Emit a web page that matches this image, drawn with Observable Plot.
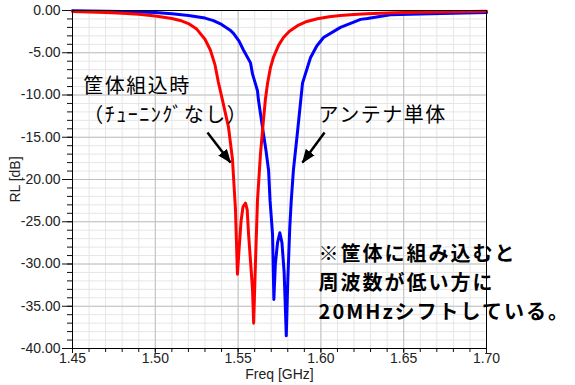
<!DOCTYPE html>
<html><head><meta charset="utf-8">
<script src="https://cdn.jsdelivr.net/npm/d3@7"></script>
<script src="https://cdn.jsdelivr.net/npm/@observablehq/plot@0.6"></script>
<style>
html,body{margin:0;padding:0;background:#fff;}
#chart svg{display:block;}
#chart g[font-family*="Noto"]{letter-spacing:1.5px;}
#chart g[font-family*="Noto"][font-weight="bold"]{letter-spacing:2px;}
</style></head><body><div id="chart"></div>
<script>
// Red: 筐体組込時 (チューニングなし)
const redFreq = [1.45,1.46,1.47,1.48,1.49,1.50,1.51,1.515,1.52,1.525,1.53,1.5333,1.536,1.538,1.541,1.5442,1.5466,1.5484,1.5496,1.5505,1.5518,1.553,1.5545,1.5555,1.5563,1.5578,1.5587,1.5594,1.5603,1.5617,1.5635,1.5653,1.5665,1.5678,1.5695,1.5714,1.5745,1.5774,1.581,1.5859,1.5915,1.5979,1.605,1.6118,1.62,1.6281,1.64,1.65,1.66,1.67,1.68,1.69,1.70];
const redRL   = [-0.12,-0.18,-0.25,-0.32,-0.45,-0.65,-0.95,-1.18,-1.55,-2.2,-3.4,-4.7,-6.4,-8.4,-11.0,-13.8,-17.6,-23.5,-31.2,-28.5,-24.9,-23.2,-22.8,-23.6,-26.4,-30.5,-33,-37,-31,-22.5,-17,-13,-10.5,-8.6,-6.8,-5.5,-4.1,-3.2,-2.45,-1.8,-1.3,-0.97,-0.75,-0.59,-0.47,-0.38,-0.3,-0.25,-0.2,-0.17,-0.14,-0.12,-0.1];
// Blue: アンテナ単体
const blueFreq = [1.45,1.46,1.47,1.48,1.49,1.50,1.51,1.52,1.53,1.5351,1.54,1.545,1.5472,1.5505,1.5533,1.5575,1.5587,1.5617,1.5623,1.5647,1.5668,1.5684,1.5693,1.5708,1.5716,1.5725,1.5738,1.5752,1.5765,1.5778,1.5785,1.5791,1.5800,1.5812,1.5821,1.5834,1.5858,1.5889,1.5937,1.5975,1.6016,1.6118,1.624,1.6281,1.642,1.66,1.68,1.70];
const blueRL   = [-0.02,-0.05,-0.08,-0.12,-0.17,-0.25,-0.38,-0.58,-0.9,-1.2,-1.65,-2.3,-2.7,-3.6,-4.7,-6.2,-7.5,-9.5,-10.6,-13.8,-16.5,-18.9,-22.5,-26.5,-34.2,-30,-27.5,-26.3,-27.5,-31,-35,-38.5,-32,-25.7,-22.5,-18.9,-14.5,-8.6,-5.6,-4.2,-3.2,-2.0,-1.05,-0.95,-0.5,-0.4,-0.32,-0.25];

const xMajorTicks = [1.45,1.50,1.55,1.60,1.65,1.70];
const xMinorTicks = [1.45,1.46,1.47,1.48,1.49,1.50,1.51,1.52,1.53,1.54,1.55,1.56,1.57,1.58,1.59,1.60,1.61,1.62,1.63,1.64,1.65,1.66,1.67,1.68,1.69,1.70];
const yMajorTicks = [0,-5,-10,-15,-20,-25,-30,-35,-40];
const yMinorTicks = [0,-1,-2,-3,-4,-5,-6,-7,-8,-9,-10,-11,-12,-13,-14,-15,-16,-17,-18,-19,-20,-21,-22,-23,-24,-25,-26,-27,-28,-29,-30,-31,-32,-33,-34,-35,-36,-37,-38,-39,-40];

const redLabelLines = ["筐体組込時","（ﾁｭｰﾆﾝｸﾞなし）"];
const blueLabel = "アンテナ単体";
const labelFreq  = [1.4565,1.5986];
const labelRL    = [-10.41,-12.07];
const noteLines  = ["※筐体に組み込むと","周波数が低い方に","20MHzシフトしている。"];
const noteFreq   = [1.5986];
const noteRL     = [-32.03];
const arrowFromFreq = [1.5315,1.6022];
const arrowFromRL   = [-14.44,-14.44];
const arrowToFreq   = [1.5454,1.5889];
const arrowToRL     = [-17.99,-18.0];

const red = redFreq.map((f,i)=>({f, v: redRL[i]}));
const blue = blueFreq.map((f,i)=>({f, v: blueRL[i]}));
const labels = [redLabelLines.join("\n"), blueLabel].map((t,i)=>({t, f: labelFreq[i], v: labelRL[i]}));
const notes = [{t: noteLines.join("\n"), f: noteFreq[0], v: noteRL[0]}];
const arrows = arrowFromFreq.map((f,i)=>({x1: f, y1: arrowFromRL[i], x2: arrowToFreq[i], y2: arrowToRL[i]}));

const jp = "'Noto Sans CJK JP', sans-serif";
const fmt = d => d.toFixed(2);

// filled triangular arrowhead marker
function filledHead(color) {
  const ns = "http://www.w3.org/2000/svg";
  const m = document.createElementNS(ns, "marker");
  m.setAttribute("viewBox", "-13 -5.5 14 11");
  m.setAttribute("markerUnits", "userSpaceOnUse");
  m.setAttribute("markerWidth", 14);
  m.setAttribute("markerHeight", 11);
  m.setAttribute("refX", 0);
  m.setAttribute("refY", 0);
  m.setAttribute("orient", "auto");
  const p = document.createElementNS(ns, "path");
  p.setAttribute("d", "M-13,-5.5L1,0L-13,5.5Z");
  p.setAttribute("fill", color);
  p.setAttribute("stroke", "none");
  m.appendChild(p);
  return m;
}

const chart = Plot.plot({
  width: 575, height: 385,
  marginLeft: 72, marginRight: 89, marginTop: 10, marginBottom: 37,
  style: {fontFamily: "'Liberation Sans', Arial, sans-serif", fontSize: "14px", color: "#222", background: "#fff", overflow: "visible"},
  x: {domain: [1.45, 1.70], label: null},
  y: {domain: [-40, 0], label: null},
  marks: [
    Plot.gridX(xMinorTicks, {stroke: "#e6e6e6", strokeOpacity: 1}),
    Plot.gridY(yMinorTicks, {stroke: "#e6e6e6", strokeOpacity: 1}),
    Plot.gridX(xMajorTicks, {stroke: "#c0c0c0", strokeOpacity: 1}),
    Plot.gridY(yMajorTicks, {stroke: "#c0c0c0", strokeOpacity: 1}),
    Plot.axisY(yMinorTicks, {tickSize: 5, tickFormat: () => "", label: null, stroke: "#111"}),
    Plot.axisY(yMajorTicks, {tickSize: 10, tickPadding: 2, tickFormat: fmt, label: "RL [dB]", labelAnchor: "center", labelArrow: "none", labelOffset: 62, stroke: "#111", fill: "#222"}),
    Plot.axisX(xMinorTicks, {tickSize: 4, tickFormat: () => "", label: null, stroke: "#111"}),
    Plot.axisX(xMajorTicks, {tickSize: 5, tickPadding: 0, tickFormat: fmt, label: "Freq [GHz]", labelAnchor: "center", labelArrow: "none", labelOffset: 30, stroke: "#111", fill: "#222"}),
    Plot.line(blue, {x: "f", y: "v", stroke: "#0000ff", strokeWidth: 3}),
    Plot.line(red, {x: "f", y: "v", stroke: "#ff0000", strokeWidth: 3}),
    Plot.frame({stroke: "#000"}),
    Plot.text(labels, {x: "f", y: "v", text: "t", textAnchor: "start", lineAnchor: "middle", lineHeight: 1.45, fontFamily: jp, fontSize: 20, fill: "#000"}),
    Plot.text(notes, {x: "f", y: "v", text: "t", textAnchor: "start", lineAnchor: "middle", lineHeight: 1.45, fontFamily: jp, fontSize: 20, fontWeight: "bold", fill: "#000"}),
    Plot.link(arrows, {x1: "x1", y1: "y1", x2: "x2", y2: "y2", stroke: "#000", strokeWidth: 2.5, markerEnd: filledHead})
  ]
});
document.getElementById("chart").append(chart);
</script></body></html>
